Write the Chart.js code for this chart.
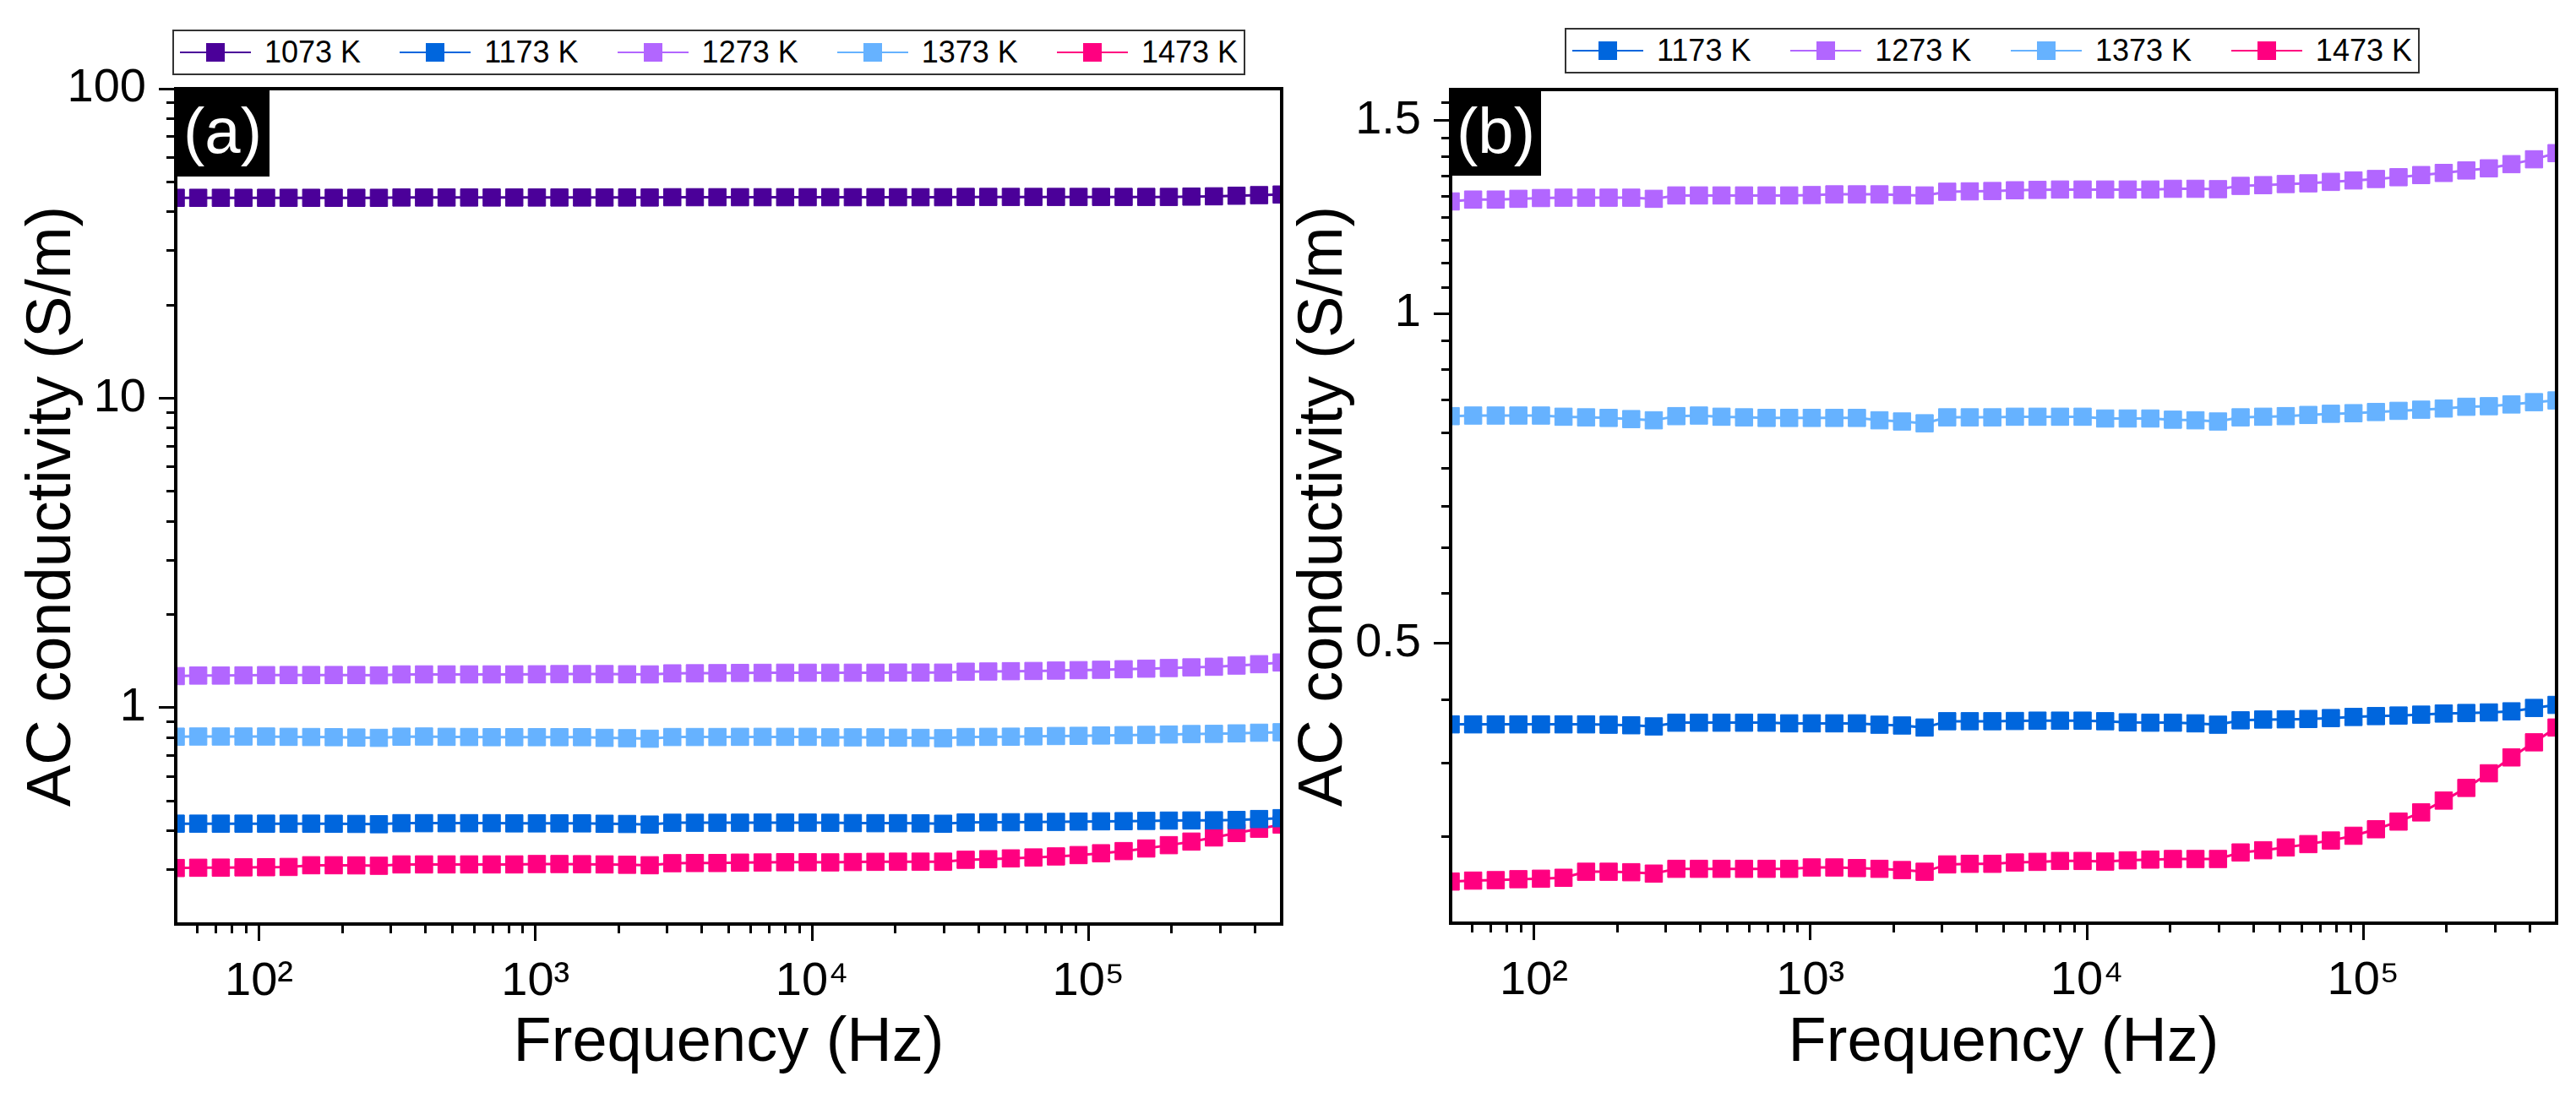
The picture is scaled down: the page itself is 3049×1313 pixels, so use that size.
<!DOCTYPE html>
<html>
<head>
<meta charset="utf-8">
<title>AC conductivity vs frequency</title>
<script src="https://cdn.jsdelivr.net/npm/chart.js@4.4.0/dist/chart.umd.min.js"></script>
<style>
  html, body { margin: 0; padding: 0; background: #fff; }
  body { width: 3049px; height: 1313px; position: relative; overflow: hidden;
         font-family: 'Liberation Sans', Arial, sans-serif; }
  canvas { position: absolute; top: 0; }
  #chartA { left: 0; }
  #chartB { left: 1505px; }
  .legend { position: absolute; box-sizing: border-box; height: 54px; border: 2px solid #333;
            display: flex; justify-content: space-between; align-items: center;
            padding: 0 7px; font-size: 36px; color: #000; background: #fff; }
  .item { display: flex; align-items: center; white-space: nowrap; }
  .swatch { position: relative; width: 84px; height: 24px; margin-right: 16px; }
  .swatch::before { content: ''; position: absolute; left: 0; right: 0; top: 11px; height: 2px; background: var(--c); }
  .swatch::after { content: ''; position: absolute; left: 31px; top: 1px; width: 22px; height: 22px; background: var(--c); }
</style>
</head>
<body>
<div id="legendA" class="legend" style="left:204px; top:35px; width:1270px;"></div>
<div id="legendB" class="legend" style="left:1852px; top:33px; width:1012px;"></div>
<canvas id="chartA" width="1540" height="1313"></canvas>
<canvas id="chartB" width="1544" height="1313"></canvas>
<script>
// frequency points (Hz)
const freq = [50, 60.3, 72.8, 87.9, 106.1, 128.0, 154.5, 186.4, 225.0, 271.5,
  327.6, 395.4, 477.1, 575.7, 694.7, 838.4, 1012, 1221, 1474, 1778,
  2146, 2590, 3126, 3772, 4552, 5494, 6630, 8001, 9654, 11650,
  14060, 16970, 20480, 24710, 29820, 35990, 43430, 52420, 63260, 76340,
  92130, 111100, 134100, 161900, 195400, 235800, 284500, 343400, 414400, 500000];

// AC conductivity (S/m)
const s1073 = [44.4, 44.4, 44.4, 44.4, 44.4, 44.4, 44.4, 44.4, 44.4, 44.4,
  44.5, 44.5, 44.5, 44.5, 44.5, 44.5, 44.5, 44.5, 44.5, 44.5, 44.5, 44.5,
  44.6, 44.6, 44.6, 44.6, 44.6, 44.6, 44.6, 44.6, 44.6, 44.6, 44.6, 44.6, 44.6,
  44.7, 44.7, 44.7, 44.7, 44.7, 44.7, 44.7, 44.7, 44.7, 44.7, 44.8, 44.9, 45.1, 45.3, 45.5];
const s1173 = [0.422, 0.422, 0.422, 0.422, 0.422, 0.422, 0.422, 0.4217, 0.4212, 0.4202,
  0.4235, 0.4235, 0.4235, 0.4235, 0.4235, 0.4229, 0.4229, 0.4229, 0.4229, 0.4217, 0.421, 0.4192,
  0.4248, 0.4248, 0.4248, 0.425, 0.4253, 0.4253, 0.4253, 0.4248, 0.4238, 0.4235, 0.4235, 0.4229, 0.4217,
  0.4256, 0.4263, 0.4265, 0.4268, 0.4276, 0.4286, 0.4294, 0.4299, 0.4307, 0.4317, 0.4322, 0.4327, 0.4337, 0.4368, 0.4396];
const s1273 = [1.265, 1.27, 1.27, 1.272, 1.274, 1.275, 1.275, 1.275, 1.275, 1.272,
  1.281, 1.281, 1.281, 1.281, 1.281, 1.281, 1.282, 1.284, 1.284, 1.284, 1.282, 1.281,
  1.291, 1.292, 1.293, 1.295, 1.296, 1.297, 1.297, 1.297, 1.297, 1.297, 1.299, 1.299, 1.298,
  1.307, 1.309, 1.312, 1.314, 1.318, 1.322, 1.326, 1.331, 1.337, 1.343, 1.35, 1.356, 1.368, 1.382, 1.4];
const s1373 = [0.806, 0.807, 0.807, 0.807, 0.807, 0.805, 0.804, 0.803, 0.801, 0.799,
  0.806, 0.807, 0.805, 0.804, 0.803, 0.803, 0.803, 0.803, 0.803, 0.799, 0.797, 0.794,
  0.804, 0.804, 0.804, 0.805, 0.805, 0.805, 0.805, 0.802, 0.802, 0.802, 0.8, 0.799, 0.797,
  0.804, 0.805, 0.806, 0.808, 0.81, 0.811, 0.813, 0.815, 0.817, 0.819, 0.822, 0.823, 0.826, 0.83, 0.833];
const s1473 = [0.3034, 0.304, 0.3043, 0.3049, 0.3052, 0.3058, 0.3097, 0.3097, 0.3094, 0.3085,
  0.3116, 0.3116, 0.3116, 0.3116, 0.3116, 0.3116, 0.3125, 0.3125, 0.3121, 0.3116, 0.3108, 0.3097,
  0.3145, 0.3149, 0.3149, 0.3158, 0.3162, 0.3168, 0.3168, 0.3164, 0.3172, 0.3177, 0.3181, 0.3181, 0.3181,
  0.3225, 0.324, 0.3259, 0.3282, 0.3307, 0.334, 0.3386, 0.3441, 0.3508, 0.3596, 0.3693, 0.3808, 0.3937, 0.4064, 0.4192];

const seriesNames = ['1073 K', '1173 K', '1273 K', '1373 K', '1473 K'];
const seriesColors = ['#4b0099', '#0066dd', '#b266ff', '#66b2ff', '#ff0080'];
const seriesData = [s1073, s1173, s1273, s1373, s1473];

// tick values and labels
const xMajor = [100, 1000, 10000, 100000];
const xMajorLabels = ['10²', '10³', '10⁴', '10⁵'];
const xMinor = [60, 70, 80, 90, 200, 300, 400, 500, 600, 700, 800, 900,
  2000, 3000, 4000, 5000, 6000, 7000, 8000, 9000,
  20000, 30000, 40000, 50000, 60000, 70000, 80000, 90000, 200000, 300000, 400000];
const yMajorA = [1, 10, 100];
const yMajorLabelsA = ['1', '10', '100'];
const yMinorA = [0.3, 0.4, 0.5, 0.6, 0.7, 0.8, 0.9, 2, 3, 4, 5, 6, 7, 8, 9, 20, 30, 40, 50, 60, 70, 80, 90];
const yMajorB = [0.5, 1, 1.5];
const yMajorLabelsB = ['0.5', '1', '1.5'];
const yMinorB = [0.3333, 0.3889, 0.4444, 0.5556, 0.6111, 0.6667, 0.7222, 0.7778, 0.8333, 0.8889, 0.9444,
  1.0556, 1.1111, 1.1667, 1.2222, 1.2778, 1.3333, 1.3889, 1.4444, 1.5556];

const FONT = "'Liberation Sans', Arial, sans-serif";

function buildLegend(id, idx) {
  const el = document.getElementById(id);
  idx.forEach(i => {
    const item = document.createElement('div');
    item.className = 'item';
    const sw = document.createElement('span');
    sw.className = 'swatch';
    sw.style.setProperty('--c', seriesColors[i]);
    item.appendChild(sw);
    item.appendChild(document.createTextNode(seriesNames[i]));
    el.appendChild(item);
  });
}

// black frame around the plot + panel tag
const framePlugin = {
  id: 'frame',
  afterDatasetsDraw(chart, args, opts) {
    const { ctx, chartArea: a } = chart;
    ctx.save();
    ctx.lineWidth = 4;
    ctx.strokeStyle = '#000';
    ctx.strokeRect(a.left, a.top, a.right - a.left, a.bottom - a.top);
    ctx.fillStyle = '#000';
    ctx.fillRect(a.left, a.top, opts.w, opts.h);
    ctx.fillStyle = '#fff';
    ctx.font = '76px ' + FONT;
    ctx.textAlign = 'center';
    ctx.textBaseline = 'middle';
    ctx.fillText(opts.text, a.left + opts.w / 2, a.top + opts.h / 2 + 3);
    ctx.restore();
  }
};

function logAxis(pos, min, max, major, majorLabels, minor, title, fitSize) {
  const horiz = pos === 'bottom';
  return {
    type: 'logarithmic',
    position: pos,
    min: min,
    max: max,
    afterBuildTicks: (scale) => {
      scale.ticks = major.concat(minor).sort((p, q) => p - q)
        .map(v => ({ value: v, major: major.includes(v) }));
    },
    afterFit: (scale) => {
      if (horiz) scale.height = fitSize; else scale.width = fitSize;
    },
    border: { display: true, color: '#000', width: 4 },
    grid: {
      drawOnChartArea: false,
      drawTicks: true,
      tickLength: 20,
      tickWidth: 3,
      tickColor: '#000',
      // minor ticks are shorter: only part of the tick line is drawn
      tickBorderDash: (c) => (c.tick && c.tick.major) ? [] : (horiz ? [9, 40] : [0, 9, 9, 40])
    },
    ticks: {
      autoSkip: false,
      maxRotation: 0,
      padding: 15,
      color: '#000',
      font: { size: 56, family: FONT },
      callback: (v, i, ticks) => {
        const k = major.indexOf(ticks[i].value);
        return k >= 0 ? majorLabels[k] : '';
      }
    },
    title: {
      display: true,
      text: title,
      color: '#000',
      font: { size: 74, family: FONT },
      padding: horiz ? { top: 0, bottom: 33 } : { top: 18, bottom: 0 }
    }
  };
}

function makeChart(canvasId, idx, yMin, yMax, yMajor, yMajorLabels, yMinor, yWidth, xHeight, top, tag) {
  const datasets = idx.map(i => ({
    label: seriesNames[i],
    data: seriesData[i],
    borderColor: seriesColors[i],
    backgroundColor: seriesColors[i],
    borderWidth: 3,
    pointStyle: 'rect',
    pointRadius: 14.5,
    pointBorderWidth: 1,
    pointBorderColor: seriesColors[i],
    pointBackgroundColor: seriesColors[i],
    clip: 0
  }));
  return new Chart(document.getElementById(canvasId), {
    type: 'line',
    data: { labels: freq, datasets: datasets },
    options: {
      responsive: false,
      animation: false,
      events: [],
      layout: { padding: { top: top, right: 23, left: 0, bottom: 0 } },
      plugins: {
        legend: { display: false },
        tooltip: { enabled: false },
        frame: tag
      },
      scales: {
        x: logAxis('bottom', 50, 500000, xMajor, xMajorLabels, xMinor, 'Frequency (Hz)', xHeight),
        y: logAxis('left', yMin, yMax, yMajor, yMajorLabels, yMinor, 'AC conductivity (S/m)', yWidth)
      }
    },
    plugins: [framePlugin]
  });
}

buildLegend('legendA', [0, 1, 2, 3, 4]);
buildLegend('legendB', [1, 2, 3, 4]);

makeChart('chartA', [0, 1, 2, 3, 4], 0.2, 100, yMajorA, yMajorLabelsA, yMinorA, 208, 219, 105,
  { text: '(a)', w: 111, h: 104 });
makeChart('chartB', [1, 2, 3, 4], 0.278, 1.6, yMajorB, yMajorLabelsB, yMinorB, 212, 220, 106,
  { text: '(b)', w: 107, h: 102 });
</script>
</body>
</html>
